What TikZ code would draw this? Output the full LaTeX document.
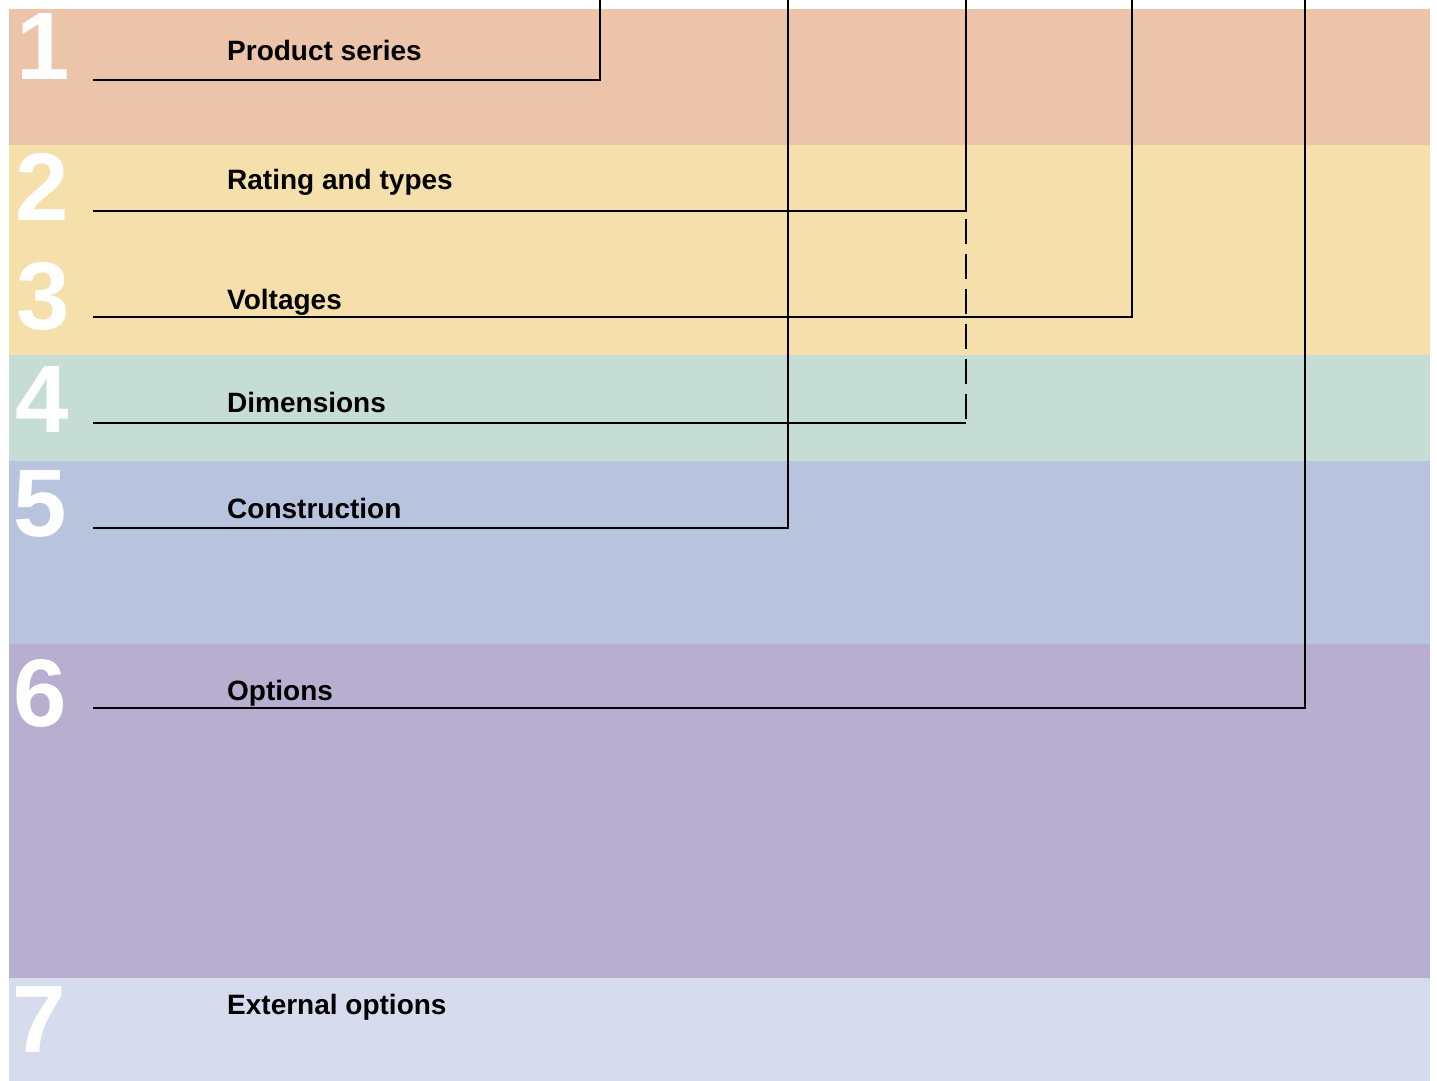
\documentclass[tikz,border=0pt]{standalone}
\usepackage{fontspec}
\setmainfont{Liberation Sans}

\definecolor{bandone}{RGB}{236,196,170}
\definecolor{bandtwo}{RGB}{245,223,170}
\definecolor{bandfour}{RGB}{198,221,213}
\definecolor{bandfive}{RGB}{184,195,222}
\definecolor{bandsix}{RGB}{184,174,208}
\definecolor{bandseven}{RGB}{214,220,238}

\tikzset{
	digit/.style={anchor=base west, inner sep=0pt, text=white, font=\fontsize{96}{100}\selectfont\bfseries},
	label/.style={anchor=base west, inner sep=0pt, font=\fontsize{28}{34}\selectfont\bfseries},
	leader/.style={line width=2pt, black},
}

\begin{document}
\begin{tikzpicture}[x=1pt, y=-1pt]
		
		\useasboundingbox (0, 0) rectangle (1437, 1081);
		
		% coloured bands
		\fill[bandone] (9, 9) rectangle (1430, 145);
		\fill[bandtwo] (9, 145) rectangle (1430, 355);
		\fill[bandfour] (9, 355) rectangle (1430, 461);
		\fill[bandfive] (9, 461) rectangle (1430, 644);
		\fill[bandsix] (9, 644) rectangle (1430, 978);
		\fill[bandseven] (9, 978) rectangle (1430, 1081);
		
		% numbers
		\node[digit] (n1) at (16, 80) {1};
		\node[digit] (n2) at (15, 220) {2};
		\node[digit] (n3) at (16, 329) {3};
		\node[digit] (n4) at (15, 432) {4};
		\node[digit] (n5) at (13, 536) {5};
		\node[digit] (n6) at (13, 726) {6};
		\node[digit] (n7) at (12, 1052) {7};
		
		% labels
		\node[label] (series) at (227, 61) {Product series};
		\node[label] (rating) at (227, 189) {Rating and types};
		\node[label] (volt) at (227, 309) {Voltages};
		\node[label] (dim) at (227, 412) {Dimensions};
		\node[label] (constr) at (227, 518) {Construction};
		\node[label] (opt) at (227, 700) {Options};
		\node[label] (ext) at (227, 1014) {External options};
		
		% leader ends
		\coordinate (series-end) at (93, 80);
		\coordinate (rating-end) at (93, 211);
		\coordinate (volt-end) at (93, 317);
		\coordinate (dim-end) at (93, 423);
		\coordinate (constr-end) at (93, 528);
		\coordinate (opt-end) at (93, 708);
		
		% leader tops
		\coordinate (series-top) at (600, 0);
		\coordinate (constr-top) at (788, 0);
		\coordinate (rating-top) at (966, 0);
		\coordinate (volt-top) at (1132, 0);
		\coordinate (opt-top) at (1305, 0);
		\coordinate (rating-knee) at (966, 211);
		\coordinate (dim-knee) at (966, 423);
		
		% leaders
		\draw[leader] (series-top) |- (series-end);
		\draw[leader] (constr-top) |- (constr-end);
		\draw[leader] (rating-top) |- (rating-end);
		\draw[leader] (volt-top) |- (volt-end);
		\draw[leader] (opt-top) |- (opt-end);
		\draw[leader, dash pattern=on 25pt off 10pt, dash phase=27pt] (rating-knee) -- (dim-knee);
		\draw[leader] (dim-knee) -- (dim-end);
		
	\end{tikzpicture}
\end{document}
